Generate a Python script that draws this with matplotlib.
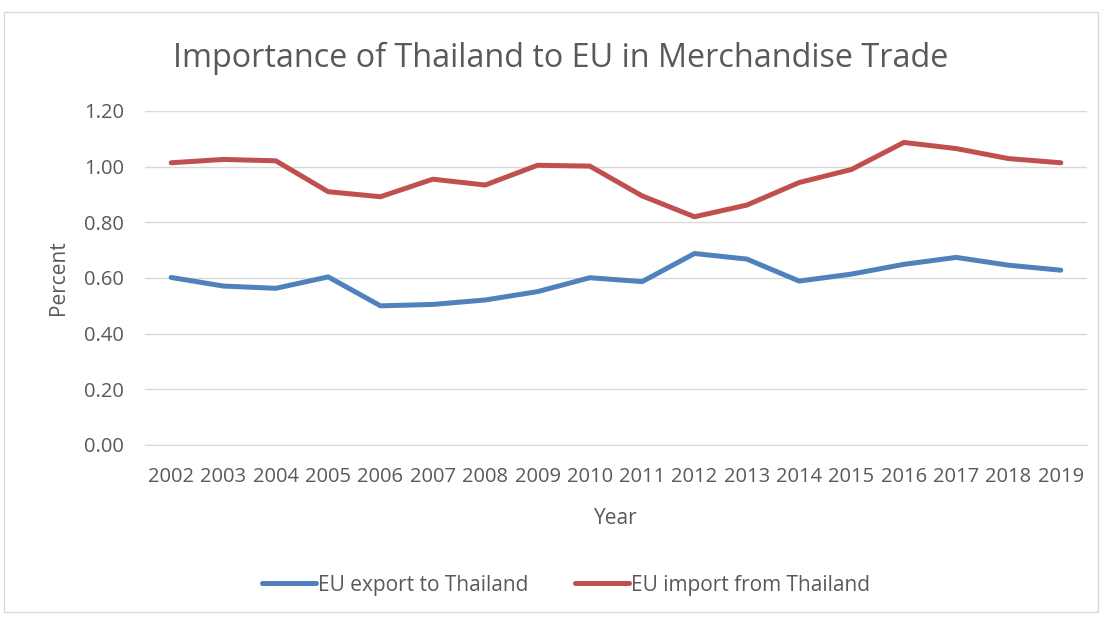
import matplotlib.pyplot as plt
import matplotlib.patches as patches

# === Data ===
years = [str(y) for y in range(2002, 2020)]
export_to_thailand = [0.602, 0.571, 0.563, 0.604, 0.500, 0.505, 0.521, 0.551, 0.601,
                      0.587, 0.688, 0.668, 0.589, 0.614, 0.649, 0.674, 0.646, 0.628]
import_from_thailand = [1.014, 1.026, 1.021, 0.910, 0.892, 0.955, 0.934, 1.005, 1.002,
                        0.895, 0.820, 0.862, 0.943, 0.990, 1.087, 1.065, 1.029, 1.014]
y_ticks = [0.0, 0.2, 0.4, 0.6, 0.8, 1.0, 1.2]

plt.rcParams['font.family'] = ['Open Sans', 'DejaVu Sans']
text_col = '#595959'

fig = plt.figure(figsize=(11.02, 6.17), dpi=100)
W, H = 1102, 617
# axes box in pixels: left 145, right 1087, top 111, bottom 445
ax = fig.add_axes([145 / W, 1 - 445 / H, (1087 - 145) / W, (445 - 111) / H])

x = list(range(len(years)))
ax.plot(x, export_to_thailand, color='#4F81BD', lw=3.6, solid_capstyle='round',
        label='EU export to Thailand')
ax.plot(x, import_from_thailand, color='#C0504D', lw=3.6, solid_capstyle='round',
        label='EU import from Thailand')

ax.set_xlim(-0.5, len(years) - 0.5)
ax.set_ylim(0, 1.2)
ax.set_xticks(x)
ax.set_xticklabels(years)
ax.set_yticks(y_ticks)
ax.set_yticklabels([f'{v:.2f}' for v in y_ticks])
ax.grid(axis='y', color='#D9D9D9', lw=1)
ax.set_axisbelow(True)
for s in ['top', 'right', 'left']:
    ax.spines[s].set_visible(False)
ax.spines['bottom'].set_color('#D9D9D9')
ax.tick_params(axis='both', length=0, labelsize=14.5, colors=text_col)
ax.tick_params(axis='x', pad=16)
ax.tick_params(axis='y', pad=15)

ax.set_xlabel('Year', fontsize=15, color=text_col, labelpad=15)
ax.set_ylabel('Percent', fontsize=15, color=text_col, labelpad=11)

fig.text(561 / W, 1 - 58 / H, 'Importance of Thailand to EU in Merchandise Trade',
         ha='center', va='center', fontsize=23.3, color=text_col)

fig.legend(loc='center', bbox_to_anchor=(566 / W, 1 - 585 / H), ncol=2, frameon=False,
           fontsize=15, labelcolor=text_col, handlelength=2.6, handletextpad=0.1,
           columnspacing=2.2)

# outer chart border
fig.add_artist(patches.Rectangle((4 / W, 1 - 612 / H), 1094 / W, 600 / H,
                                 transform=fig.transFigure, fill=False,
                                 edgecolor='#D9D9D9', lw=1))

fig.savefig('out.png', dpi=100)
